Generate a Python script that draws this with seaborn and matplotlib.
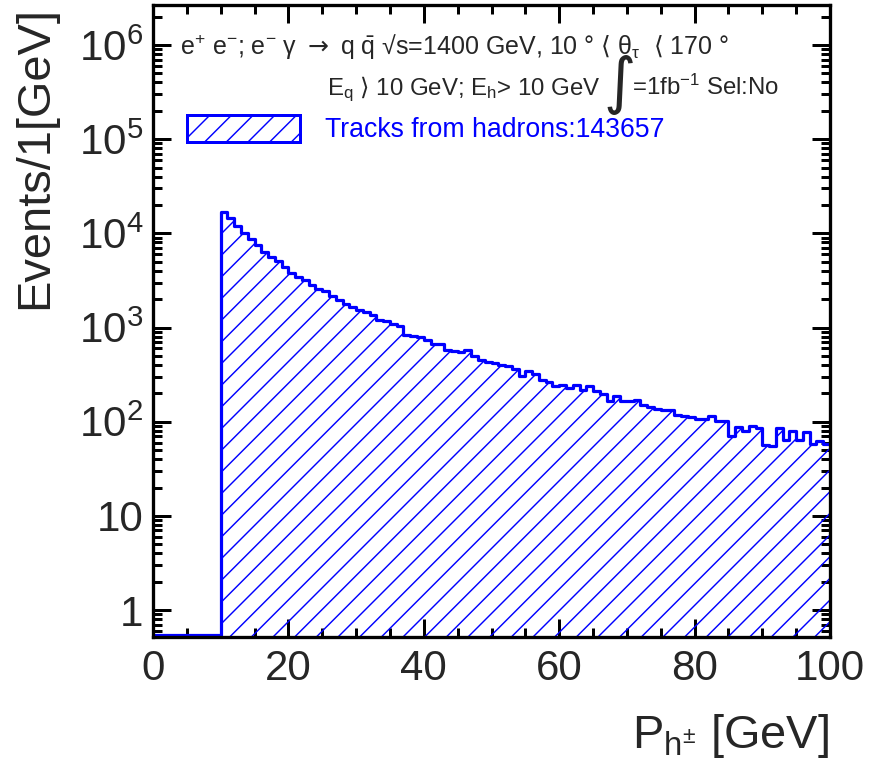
import numpy as np
import pandas as pd
import matplotlib
matplotlib.use("Agg")
import matplotlib.pyplot as plt
import seaborn as sns
from matplotlib.patches import Patch
from matplotlib.ticker import MultipleLocator, LogLocator, FuncFormatter, NullFormatter

DPI = 130
W, H = 873, 763


def pt(px):
    """Pixel size -> points at the figure resolution."""
    return px * 72.0 / DPI


def fx(px):
    return px / W


def fy(py):
    return 1.0 - py / H


# 1 GeV bins of charged-track momentum, 0-100 GeV
p_min, p_max, bin_width = 0, 100, 1
below_threshold = [0] * 10          # E_h > 10 GeV cut: nothing below 10 GeV
track_counts = [
    17000, 14450, 11960, 10070, 8630, 7510, 6380, 5600, 5040, 4380,   # 10-19
    3820, 3400, 3160, 2800, 2540, 2430, 2150, 1950, 1760, 1670,       # 20-29
    1540, 1470, 1350, 1190, 1170, 1095, 1032, 828, 809, 789,          # 30-39
    733, 676, 664, 574, 560, 556, 574, 504, 449, 428,                 # 40-49
    417, 404, 394, 366, 303, 349, 324, 280, 262, 240,                 # 50-59
    248, 228, 248, 215, 242, 214, 199, 165, 189, 165,                 # 60-69
    166, 169, 149, 142, 136, 134, 134, 117, 114, 111,                 # 70-79
    108, 107, 114, 102, 102, 70, 88, 79, 89, 86,                      # 80-89
    56, 55, 86, 64, 79, 64, 77, 58, 62, 58,                           # 90-99
]
events = np.array(below_threshold + track_counts, dtype=float)

legend_label = "Tracks from hadrons:143657"
x_label = r"P$_{h^{\pm}}$ [GeV]"
y_label = "Events/1[GeV]"
info_line1 = (r"e$^{+}$ e$^{-}$; e$^{-}$ γ $\mathrm{\rightarrow}$ q $\bar{q}$ √s=1400 GeV, "
              r"10 ° $\mathrm{\langle}$ θ$_{\tau}$  $\mathrm{\langle}$ 170 °")
info_line2a = r"E$_{q}$ $\mathrm{\rangle}$ 10 GeV; E$_{h}$> 10 GeV"
info_line2b = "∫"
info_line2c = r"=1fb$^{-1}$ Sel:No"

sns.set_style("ticks")
plt.rcParams.update({
    "font.family": ["Liberation Sans", "DejaVu Sans"],
    "mathtext.fontset": "dejavusans",
    "mathtext.default": "regular",
    "hatch.linewidth": 0.8,
    "hatch.color": "blue",
    "axes.unicode_minus": False,
})

fig = plt.figure(figsize=(W / DPI, H / DPI), dpi=DPI)
fig.patch.set_facecolor("white")
ax = fig.add_axes([fx(153), fy(637), 677 / W, 632 / H])
ax.set_facecolor("white")
ax.set_yscale("log")

y_min, y_max = 0.517, 2.66e6
# empty bins are drawn along the bottom of the log axis
shown = np.clip(events, y_min * 1.04, None)
centers = np.arange(p_min, p_max, bin_width) + bin_width / 2
df = pd.DataFrame({"p": centers, "events": shown})

hist_kws = dict(data=df, x="p", weights="events", binwidth=bin_width,
                binrange=(p_min, p_max), element="step", color="blue", ax=ax)
sns.histplot(fill=True, hatch="//", linewidth=0, **hist_kws)
hatched = ax.collections[-1]
hatched.set_facecolor("none")
hatched.set_edgecolor("blue")
hatched.set_linewidth(0)
sns.histplot(fill=False, linewidth=pt(3.2), **hist_kws)

ax.set_xlim(p_min, p_max)
ax.set_ylim(y_min, y_max)
ax.set_xlabel("")
ax.set_ylabel("")
ax.xaxis.label.set_visible(False)
ax.yaxis.label.set_visible(False)

ax.xaxis.set_major_locator(MultipleLocator(20))
ax.xaxis.set_minor_locator(MultipleLocator(5))
ax.yaxis.set_major_locator(LogLocator(base=10, numticks=20))
ax.yaxis.set_minor_locator(LogLocator(base=10, subs=np.arange(2, 10), numticks=20))
ax.yaxis.set_minor_formatter(NullFormatter())


def decade_label(v, pos):
    n = int(round(np.log10(v)))
    if n == 0:
        return "1"
    if n == 1:
        return "10"
    return "10$^{%d}$" % n


ax.yaxis.set_major_formatter(FuncFormatter(decade_label))
ax.tick_params(which="both", direction="in", top=True, right=True,
               color="black", width=pt(3))
ax.tick_params(which="major", length=pt(18), labelsize=pt(42))
ax.tick_params(which="minor", length=pt(9))
ax.tick_params(axis="y", which="major", pad=pt(10))
ax.tick_params(axis="x", which="major", pad=pt(12))
for s in ax.spines.values():
    s.set_linewidth(pt(3.3))
    s.set_color("black")
    s.set_zorder(5)

# axis titles, ROOT style (right / top aligned)
fig.text(fx(829), fy(748), x_label, fontsize=pt(47), ha="right", va="baseline")
fig.text(fx(35), fy(6), y_label, fontsize=pt(47), rotation=90,
         ha="center", va="top")

# run information
fig.text(fx(180), fy(55), info_line1, fontsize=pt(25), ha="left", va="baseline")
fig.text(fx(327), fy(95), info_line2a, fontsize=pt(24), ha="left", va="baseline")
fig.text(fx(620), fy(102), info_line2b, fontsize=pt(62), ha="center",
         va="baseline", family=["DejaVu Sans", "Liberation Sans"])
fig.text(fx(632), fy(95), info_line2c, fontsize=pt(24), ha="left", va="baseline")

handle = Patch(facecolor="none", edgecolor="blue", hatch="//", linewidth=pt(3))
fs_leg = 26.6
ax.legend([handle], [legend_label], loc="upper left",
          bbox_to_anchor=((187 - 153) / 677, (637 - 115) / 632),
          borderaxespad=0, borderpad=0, frameon=False,
          fontsize=pt(fs_leg), labelcolor="blue",
          handlelength=113 / fs_leg, handleheight=31 / fs_leg,
          handletextpad=25 / fs_leg)

fig.savefig("out.png", dpi=DPI, facecolor="white")
